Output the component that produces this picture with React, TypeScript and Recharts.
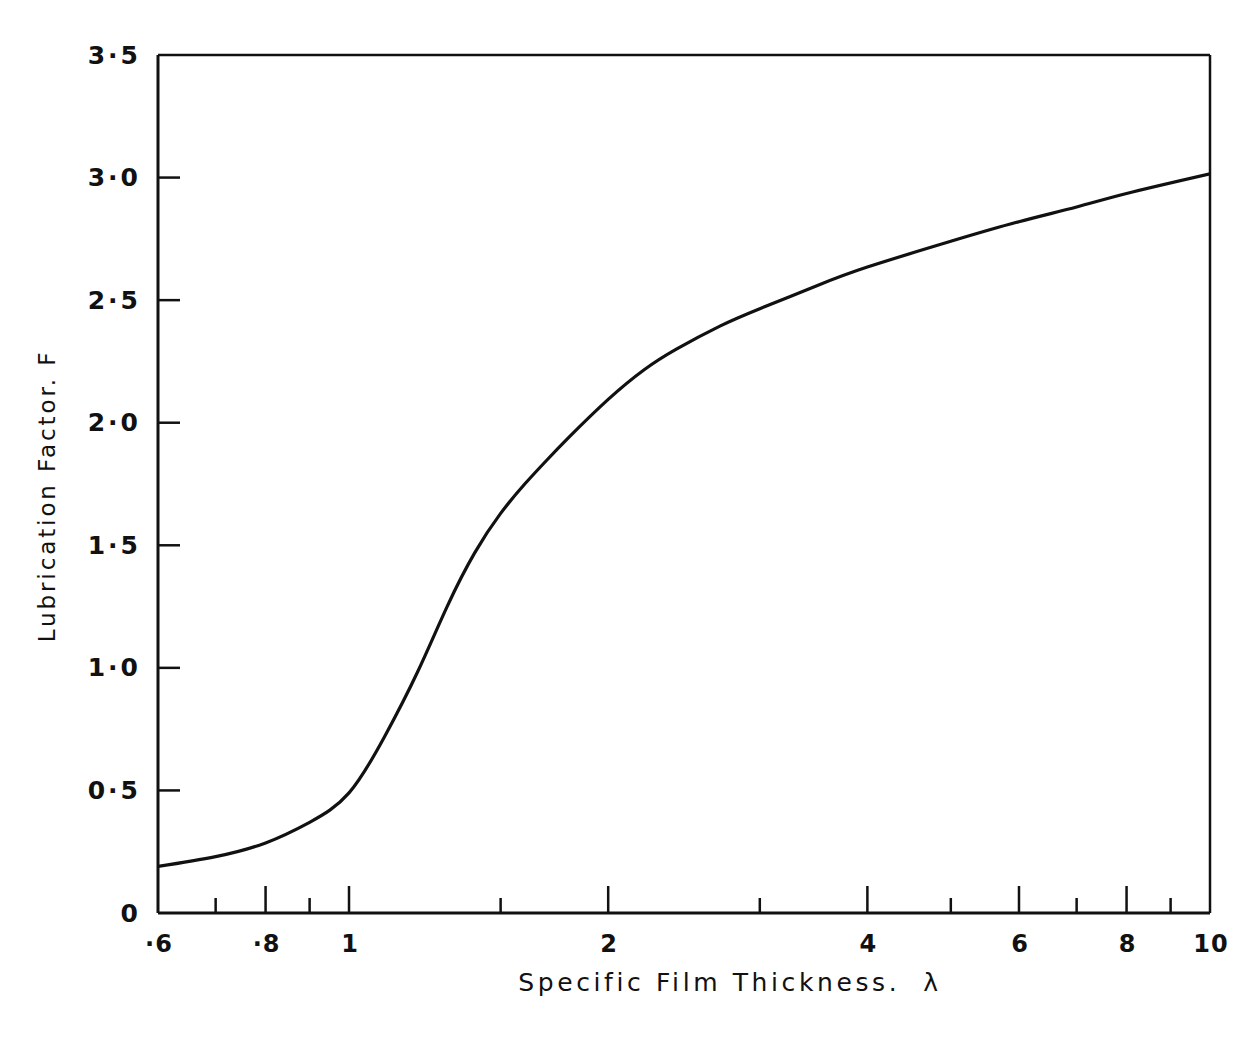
import React from 'react';
import { LineChart, Line, XAxis, YAxis, ReferenceLine, Label } from 'recharts';

const lambdaValues = [0.6, 0.7, 0.8, 0.9, 1.0, 1.1, 1.2, 1.3, 1.4, 1.5, 1.6, 1.7, 1.8, 2.0, 2.2, 2.4, 2.7, 3.0, 3.5, 4.0, 5.0, 6.0, 7.0, 8.0, 10];
const factorValues = [0.19, 0.23, 0.286, 0.37, 0.49, 0.72, 0.98, 1.25, 1.47, 1.63, 1.75, 1.85, 1.94, 2.095, 2.215, 2.3, 2.395, 2.465, 2.56, 2.635, 2.74, 2.82, 2.88, 2.935, 3.015];

const xTicks = [0.6, 0.7, 0.8, 0.9, 1, 1.5, 2, 3, 4, 5, 6, 7, 8, 9, 10];
const xTickLabels = ['·6', '', '·8', '', '1', '', '2', '', '4', '', '6', '', '8', '', '10'];
const yTicks = [0, 0.5, 1.0, 1.5, 2.0, 2.5, 3.0, 3.5];
const yTickLabels = ['0', '0·5', '1·0', '1·5', '2·0', '2·5', '3·0', '3·5'];

const data = lambdaValues.map((l, i) => ({ lambda: l, F: factorValues[i] }));

const FONT = '"DejaVu Sans", "Liberation Sans", Arial, sans-serif';

const XTick = (props: any) => {
  const { x, y, payload } = props;
  const idx = xTicks.indexOf(payload.value);
  const label = idx >= 0 ? xTickLabels[idx] : '';
  const isEnd = payload.value === 0.6 || payload.value === 10;
  const len = isEnd ? 0 : label ? 27 : 15;
  return (
    <g>
      {len > 0 && <line x1={x} y1={y} x2={x} y2={y - len} stroke="#111" strokeWidth={2.5} />}
      {label && (
        <text x={x + 1} y={y + 31} textAnchor="middle" dominantBaseline="central" fontFamily={FONT} fontSize={24} fontWeight={700} letterSpacing={1} fill="#111">
          {label}
        </text>
      )}
    </g>
  );
};

const YTick = (props: any) => {
  const { x, y, payload } = props;
  const idx = yTicks.indexOf(payload.value);
  const label = idx >= 0 ? yTickLabels[idx] : '';
  const isEnd = payload.value === 0 || payload.value === 3.5;
  return (
    <g>
      {!isEnd && <line x1={x} y1={y} x2={x + 22} y2={y} stroke="#111" strokeWidth={2.5} />}
      <text x={x - 17} y={y} textAnchor="end" dominantBaseline="central" fontFamily={FONT} fontSize={25} fontWeight={700} letterSpacing={3} fill="#111">
        {label}
      </text>
    </g>
  );
};

export default function App() {
  return (
    <div style={{ width: 1231, height: 1030, background: '#fff' }}>
      <LineChart width={1231} height={1030} data={data} margin={{ top: 47, right: 29, bottom: 0, left: 0 }}>
        <XAxis
          dataKey="lambda"
          type="number"
          scale="log"
          domain={[0.6, 10]}
          allowDataOverflow
          ticks={xTicks}
          interval={0}
          height={125}
          tickSize={0}
          tickMargin={0}
          tickLine={false}
          tick={<XTick />}
          axisLine={{ stroke: '#111', strokeWidth: 3 }}
        >
          <Label
            content={(p: any) => {
              const vb = p.viewBox;
              return (
                <text x={vb.x + vb.width / 2 + 46} y={vb.y + 69} textAnchor="middle" dominantBaseline="central" fontFamily={FONT} fontSize={25} fill="#111" letterSpacing={3.6} style={{ whiteSpace: 'pre' }}>
                  {'Specific Film Thickness.  λ'}
                </text>
              );
            }}
          />
        </XAxis>
        <YAxis
          type="number"
          domain={[0, 3.5]}
          ticks={yTicks}
          interval={0}
          width={150}
          tickSize={0}
          tickMargin={0}
          tickLine={false}
          tick={<YTick />}
          axisLine={{ stroke: '#111', strokeWidth: 3 }}
        >
          <Label
            content={() => {
              const cx = 39;
              const cy = 488;
              return (
                <text x={cx} y={cy} transform={`rotate(-90 ${cx} ${cy})`} textAnchor="middle" dominantBaseline="central" fontFamily={FONT} fontSize={23} fill="#111" letterSpacing={2.9}>
                  Lubrication Factor. F
                </text>
              );
            }}
          />
        </YAxis>
        <ReferenceLine y={3.5} stroke="#111" strokeWidth={2.5} />
        <ReferenceLine x={10} stroke="#111" strokeWidth={2.5} />
        <Line type="natural" dataKey="F" stroke="#111" strokeWidth={3.2} dot={false} isAnimationActive={false} />
      </LineChart>
    </div>
  );
}
